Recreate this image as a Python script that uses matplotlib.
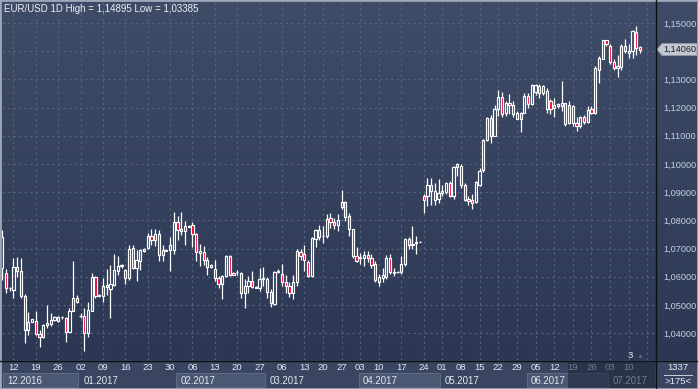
import numpy as np
import matplotlib.pyplot as plt
import matplotlib.transforms as mtransforms
from matplotlib.patches import Rectangle, Polygon
from matplotlib.lines import Line2D
from matplotlib.colors import LinearSegmentedColormap

plt.rcParams['font.family'] = ['Liberation Sans', 'DejaVu Sans']

# EUR/USD daily, first bar is cut by the left edge
opens = [
    1.0630, 1.0615, 1.0560, 1.0553, 1.0635, 1.0620, 1.0532, 1.0410, 1.0441, 1.0444,
    1.0397, 1.0385, 1.0430, 1.0432, 1.0447, 1.0445, 1.0456, 1.0453, 1.0406, 1.0480,
    1.0524, 1.0461, 1.0461, 1.0400, 1.0479, 1.0600, 1.0532, 1.0532, 1.0571, 1.0556,
    1.0571, 1.0620, 1.0638, 1.0624, 1.0594, 1.0702, 1.0633, 1.0657, 1.0692, 1.0702,
    1.0744, 1.0732, 1.0751, 1.0677, 1.0692, 1.0694, 1.0694, 1.0796, 1.0769, 1.0761,
    1.0778, 1.0782, 1.0753, 1.0686, 1.0688, 1.0661, 1.0635, 1.0629, 1.0596, 1.0575,
    1.0602, 1.0675, 1.0607, 1.0616, 1.0614, 1.0544, 1.0567, 1.0585, 1.0562, 1.0562,
    1.0591, 1.0593, 1.0546, 1.0503, 1.0618, 1.0611, 1.0583, 1.0569, 1.0544, 1.0583,
    1.0688, 1.0681, 1.0653, 1.0602, 1.0734, 1.0767, 1.0744, 1.0744, 1.0808, 1.0795,
    1.0783, 1.0847, 1.0866, 1.0815, 1.0768, 1.0674, 1.0668, 1.0667, 1.0677, 1.0665,
    1.0645, 1.0580, 1.0596, 1.0600, 1.0668, 1.0615, 1.0616, 1.0616, 1.0645, 1.0733,
    1.0712, 1.0719, 1.0724, 1.0886, 1.0886, 1.0927, 1.0906, 1.0876, 1.0898, 1.0900,
    1.0933, 1.0886, 1.0988, 1.0994, 1.0927, 1.0876, 1.0871, 1.0865, 1.0924, 1.0977,
    1.1086, 1.1162, 1.1100, 1.1195, 1.1238, 1.1180, 1.1215, 1.1208, 1.1182, 1.1159,
    1.1182, 1.1241, 1.1212, 1.1255, 1.1276, 1.1276, 1.1259, 1.1224, 1.1200, 1.1206,
    1.1206, 1.1215, 1.1208, 1.1204, 1.1147, 1.1133, 1.1168, 1.1149, 1.1194, 1.1180,
    1.1335, 1.1373, 1.1439, 1.1420, 1.1361, 1.1341, 1.1345, 1.1420, 1.1394, 1.1400,
    1.1467, 1.1415,
]
highs = [
    1.0766, 1.0627, 1.0565, 1.0665, 1.0671, 1.0668, 1.0538, 1.0474, 1.0452, 1.0479,
    1.0412, 1.0432, 1.0500, 1.0471, 1.0462, 1.0462, 1.0462, 1.0459, 1.0488, 1.0657,
    1.0535, 1.0471, 1.0488, 1.0509, 1.0614, 1.0603, 1.0538, 1.0594, 1.0627, 1.0641,
    1.0682, 1.0673, 1.0645, 1.0627, 1.0714, 1.0712, 1.0694, 1.0700, 1.0703, 1.0756,
    1.0771, 1.0771, 1.0767, 1.0712, 1.0698, 1.0741, 1.0829, 1.0814, 1.0829, 1.0799,
    1.0783, 1.0796, 1.0755, 1.0718, 1.0711, 1.0671, 1.0645, 1.0658, 1.0602, 1.0608,
    1.0679, 1.0679, 1.0616, 1.0624, 1.0616, 1.0591, 1.0602, 1.0620, 1.0566, 1.0632,
    1.0635, 1.0599, 1.0555, 1.0620, 1.0626, 1.0644, 1.0605, 1.0580, 1.0608, 1.0700,
    1.0699, 1.0714, 1.0658, 1.0740, 1.0771, 1.0785, 1.0781, 1.0822, 1.0826, 1.0809,
    1.0821, 1.0909, 1.0868, 1.0827, 1.0771, 1.0704, 1.0683, 1.0692, 1.0690, 1.0680,
    1.0657, 1.0610, 1.0631, 1.0677, 1.0680, 1.0631, 1.0619, 1.0674, 1.0736, 1.0741,
    1.0780, 1.0745, 1.0726, 1.0892, 1.0951, 1.0951, 1.0933, 1.0948, 1.0927, 1.0935,
    1.0939, 1.0994, 1.1004, 1.1000, 1.0933, 1.0886, 1.0895, 1.0938, 1.0986, 1.1088,
    1.1166, 1.1174, 1.1210, 1.1262, 1.1255, 1.1224, 1.1247, 1.1224, 1.1188, 1.1185,
    1.1253, 1.1250, 1.1282, 1.1285, 1.1282, 1.1280, 1.1271, 1.1232, 1.1235, 1.1215,
    1.1294, 1.1218, 1.1224, 1.1208, 1.1165, 1.1171, 1.1173, 1.1206, 1.1206, 1.1347,
    1.1382, 1.1441, 1.1441, 1.1424, 1.1373, 1.1388, 1.1424, 1.1444, 1.1424, 1.1476,
    1.14895, 1.1420,
]
lows = [
    1.0590, 1.0541, 1.0550, 1.0526, 1.0600, 1.0525, 1.0365, 1.0394, 1.0440, 1.0394,
    1.0350, 1.0383, 1.0418, 1.0424, 1.0443, 1.0438, 1.0450, 1.0368, 1.0404, 1.0477,
    1.0506, 1.0453, 1.03385, 1.0385, 1.0477, 1.0526, 1.0530, 1.0509, 1.0535, 1.0453,
    1.0568, 1.0606, 1.0633, 1.0574, 1.0588, 1.0627, 1.0586, 1.0624, 1.0689, 1.0700,
    1.0714, 1.0708, 1.0657, 1.0657, 1.0690, 1.0620, 1.0682, 1.0729, 1.0749, 1.0712,
    1.0775, 1.0705, 1.0655, 1.0638, 1.0643, 1.0605, 1.0630, 1.0585, 1.0561, 1.0523,
    1.0599, 1.0602, 1.0605, 1.0606, 1.0526, 1.0491, 1.0544, 1.0560, 1.0560, 1.0551,
    1.0567, 1.0526, 1.0494, 1.0500, 1.0612, 1.0568, 1.0544, 1.0528, 1.0523, 1.0569,
    1.0661, 1.0620, 1.0599, 1.0600, 1.0706, 1.0732, 1.0720, 1.0738, 1.0773, 1.0768,
    1.0762, 1.0839, 1.0798, 1.0745, 1.0668, 1.0651, 1.0645, 1.0637, 1.0651, 1.0633,
    1.0583, 1.0569, 1.0580, 1.0592, 1.0610, 1.0604, 1.0614, 1.0610, 1.0637, 1.0700,
    1.0700, 1.0680, 1.0723, 1.0825, 1.0851, 1.0856, 1.0853, 1.0862, 1.0888, 1.0892,
    1.0882, 1.0877, 1.0957, 1.0915, 1.0868, 1.0853, 1.0841, 1.0862, 1.0921, 1.0972,
    1.1082, 1.1076, 1.1098, 1.1171, 1.1165, 1.1171, 1.1176, 1.1165, 1.1159, 1.1112,
    1.1180, 1.1200, 1.1208, 1.1245, 1.1235, 1.1245, 1.1182, 1.1176, 1.1165, 1.1200,
    1.1188, 1.1135, 1.1141, 1.1135, 1.1118, 1.1126, 1.1141, 1.1145, 1.1176, 1.1176,
    1.1288, 1.1371, 1.1418, 1.1353, 1.1333, 1.1309, 1.1335, 1.1394, 1.1376, 1.1376,
    1.1388, 1.1392,
]
closes = [
    1.0740, 1.0559, 1.0562, 1.0635, 1.0620, 1.0532, 1.0410, 1.0441, 1.0450, 1.0397,
    1.0385, 1.0430, 1.0436, 1.0447, 1.0456, 1.0458, 1.0458, 1.0406, 1.0480, 1.0524,
    1.0512, 1.0462, 1.0400, 1.0482, 1.0600, 1.0532, 1.0535, 1.0568, 1.0565, 1.0573,
    1.0624, 1.0639, 1.0641, 1.0594, 1.0700, 1.0633, 1.0659, 1.0694, 1.0700, 1.0744,
    1.0732, 1.0751, 1.0677, 1.0694, 1.0695, 1.0714, 1.0796, 1.0767, 1.0761, 1.0779,
    1.0780, 1.0753, 1.0688, 1.0690, 1.0661, 1.0635, 1.0643, 1.0596, 1.0576, 1.0602,
    1.0675, 1.0605, 1.0614, 1.0618, 1.0544, 1.0567, 1.0585, 1.0563, 1.0564, 1.0591,
    1.0597, 1.0546, 1.0506, 1.0618, 1.0620, 1.0583, 1.0567, 1.0544, 1.0583, 1.0691,
    1.0673, 1.0658, 1.0602, 1.0738, 1.0767, 1.0741, 1.0746, 1.0806, 1.0796, 1.0783,
    1.0800, 1.0866, 1.0813, 1.0768, 1.0674, 1.0657, 1.0671, 1.0677, 1.0665, 1.0643,
    1.0590, 1.0598, 1.0606, 1.0666, 1.0616, 1.0617, 1.0617, 1.0645, 1.0733, 1.0712,
    1.0718, 1.0725, 1.0725, 1.0872, 1.0927, 1.0904, 1.0874, 1.0898, 1.0906, 1.0933,
    1.0886, 1.0988, 1.1000, 1.0927, 1.0874, 1.0868, 1.0862, 1.0935, 1.0976, 1.1086,
    1.1162, 1.1100, 1.1195, 1.1238, 1.1179, 1.1215, 1.1208, 1.1176, 1.1161, 1.1182,
    1.1241, 1.1212, 1.1280, 1.1280, 1.1251, 1.1253, 1.1194, 1.1194, 1.1208, 1.1212,
    1.1215, 1.1141, 1.1147, 1.1145, 1.1133, 1.1168, 1.1149, 1.1192, 1.1180, 1.1341,
    1.1376, 1.1439, 1.1424, 1.1361, 1.1341, 1.1349, 1.1420, 1.1400, 1.1400, 1.1471,
    1.1412, 1.1406,
]

# weekly ticks (bar index of each Monday) and month starts
week_idx = [2, 8, 14, 20, 26, 32, 38, 44, 50, 56, 62, 68, 74, 80, 85, 90,
            95, 100, 106, 112, 117, 122, 127, 132, 137, 142, 147, 152, 157, 162, 167, 172]
week_labels = ['12', '19', '26', '02', '09', '16', '23', '30', '06', '13', '20', '27',
               '06', '13', '20', '27', '03', '10', '17', '24', '01', '08', '15', '22',
               '29', '05', '12', '19', '26', '03', '10', '']
month_start = [-1, 20, 46, 70, 95, 117, 140, 162]
month_labels = ['12.2016', '01.2017', '02.2017', '03.2017', '04.2017', '05.2017', '06.2017', '07.2017']
price_ticks = [1.04, 1.05, 1.06, 1.07, 1.08, 1.09, 1.10, 1.11, 1.12, 1.13, 1.14, 1.15]
last_price = 1.14060
hi_all, lo_all = 1.14895, 1.03385

W, H = 698, 389
fig = plt.figure(figsize=(W / 100, H / 100), dpi=100)
fig.patch.set_facecolor('#3a4661')

def fx(px):
    return px / W

def fy(py):
    return 1 - py / H

# background gradient for plot + price scale
bg = fig.add_axes([0, fy(360), 1, fy(0) - fy(360)])
bg.axis('off')
grad = np.linspace(0, 1, 256).reshape(-1, 1)
cm = LinearSegmentedColormap.from_list('bg', ['#3f4c68', '#2c3853'])
bg.imshow(grad, aspect='auto', cmap=cm, extent=[0, 1, 0, 1], origin='upper')

ax = fig.add_axes([fx(2), fy(360), fx(656) - fx(2), fy(1) - fy(360)])
ax.patch.set_alpha(0)
ax.set_xlim(-1.07, 174.3)
ax.set_ylim(1.0305, 1.1578)
for s in ax.spines.values():
    s.set_visible(False)

ax.set_yticks(price_ticks)
ax.set_yticklabels(['' if abs(p - 1.14) < 1e-9 else f'{p:.5f}'.replace('.', ',') for p in price_ticks])
ax.yaxis.tick_right()
ax.tick_params(axis='y', length=0, pad=5, labelsize=6.6, labelcolor='#c4d1e6')
ax.set_xticks(week_idx)
ax.set_xticklabels(week_labels)
ax.tick_params(axis='x', length=0, pad=2.2, labelsize=6.8, labelcolor='#e4e9f0')
ax.grid(True, color='#56637d', linestyle=(0, (2, 3)), linewidth=0.8)
ax.set_axisbelow(True)

x = np.arange(len(opens)) - 1
o = np.array(opens)
h = np.array(highs)
l = np.array(lows)
c = np.array(closes)
top = np.maximum(o, c)
bot = np.minimum(o, c)
up = c >= o
ax.vlines(x, top, h, color='white', linewidth=0.9, zorder=3)
ax.vlines(x, l, bot, color='white', linewidth=0.9, zorder=3)
body = np.maximum(top - bot, 0.00005)
ax.bar(x, body, bottom=bot, width=0.6,
       color=['none' if u else '#e8002e' for u in up],
       edgecolor='white', linewidth=0.85, zorder=4)

ax.text(fx(4), fy(9), f'EUR/USD 1D High = {hi_all:.5f} Low = {lo_all:.5f}'.replace('.', ','),
        transform=fig.transFigure, fontsize=7.0, color='#eef1f5', va='center', ha='left')

# last price marker on the scale
tr = mtransforms.blended_transform_factory(fig.transFigure, ax.transData)
dy = 6 / 2820
ax.add_patch(Polygon([[fx(657), last_price], [fx(662), last_price + dy], [fx(697), last_price + dy],
                      [fx(697), last_price - dy], [fx(662), last_price - dy]],
                     closed=True, transform=tr, facecolor='#c3c7cf', edgecolor='#8f97a6',
                     linewidth=0.6, clip_on=False, zorder=6))
ax.text(fx(679.5), last_price, f'{last_price:.5f}'.replace('.', ','), transform=tr,
        fontsize=6.6, color='#1c2230', ha='center', va='center', zorder=7)

# month boxes on the date bar
tm = mtransforms.blended_transform_factory(ax.transData, fig.transFigure)
bounds = [s - 0.5 for s in month_start] + [174.3]
for k, lab in enumerate(month_labels):
    x0 = max(bounds[k], -0.95)
    x1 = bounds[k + 1]
    fc = '#4b5874' if k % 2 == 0 else '#3a4661'
    ec = '#5d6a86' if k % 2 == 0 else '#3a4661'
    fig.patches.append(Rectangle((x0 + 0.15, fy(387)), x1 - x0 - 0.3, fy(373) - fy(387),
                                 transform=tm, facecolor=fc, edgecolor=ec, linewidth=0.8))
    fig.text(x0 + 1.2, fy(380.5), lab, transform=tm, fontsize=6.9, color='#e4e9f0',
             va='center', ha='left')

# dimmed area on the date bar
fig.patches.append(Rectangle((fx(568), fy(388)), fx(655) - fx(568), fy(361) - fy(388),
                             transform=fig.transFigure, facecolor='#1a2236', alpha=0.55,
                             edgecolor='none', zorder=5))
fig.text(fx(630), fy(355), '3', fontsize=6.8, color='#e4e9f0', ha='center', va='center')
fig.text(fx(640), fy(356), '\u25b2', fontsize=5, color='#5b6478', ha='center', va='center')

# bottom right counter
fig.text(fx(678), fy(368), '1337', fontsize=6.8, color='#e4e9f0', ha='center', va='center')
fig.lines.append(Line2D([fx(664), fx(692)], [fy(374.5), fy(374.5)], transform=fig.transFigure,
                        color='#c8d0dc', linewidth=0.7))
fig.text(fx(678), fy(381.5), '>175<', fontsize=6.8, color='#e4e9f0', ha='center', va='center')

# separators and frame
fig.lines.append(Line2D([0, 1], [fy(360.5), fy(360.5)], transform=fig.transFigure,
                        color='#0c0f16', linewidth=1.0))
fig.lines.append(Line2D([fx(656), fx(656)], [0, 1], transform=fig.transFigure,
                        color='#0c0f16', linewidth=1.0))
fig.patches.append(Rectangle((0, 0), 1, 1, transform=fig.transFigure, fill=False,
                             edgecolor='#9ea7b7', linewidth=2.0))

fig.savefig('out.png', dpi=100)
